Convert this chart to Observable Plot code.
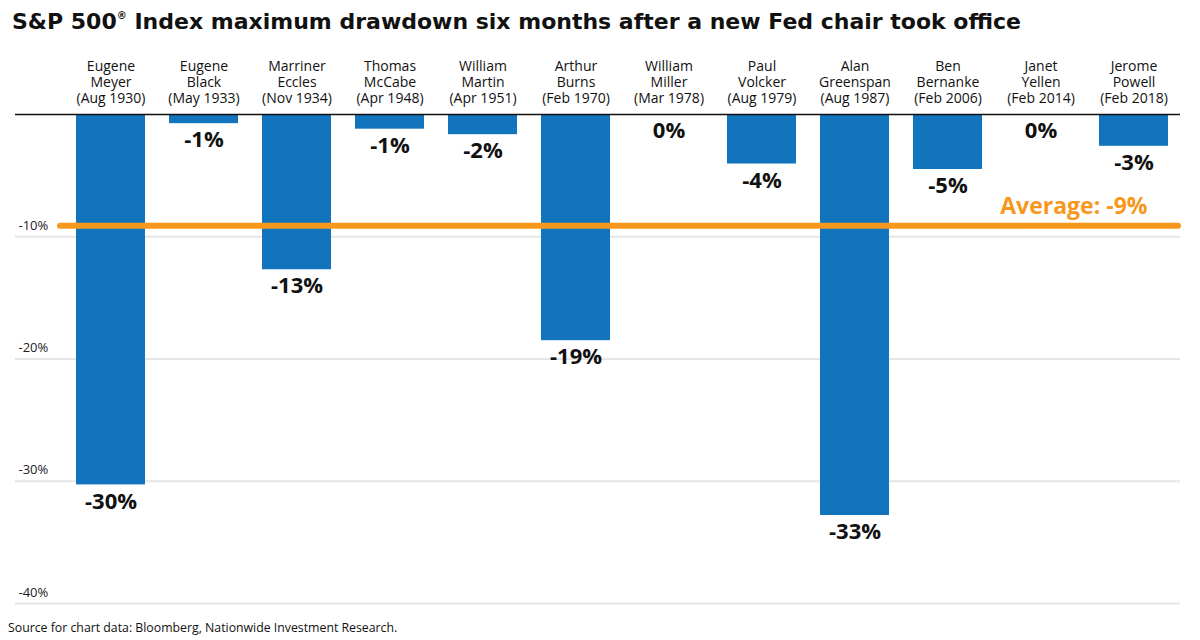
<!DOCTYPE html>
<html>
<head>
<meta charset="utf-8">
<script src="https://cdn.jsdelivr.net/npm/d3@7"></script>
<script src="https://cdn.jsdelivr.net/npm/@observablehq/plot@0.6"></script>
<style>
  html, body { margin: 0; padding: 0; background: #fff; }
  body { width: 1200px; height: 640px; overflow: hidden; font-family: "Open Sans", sans-serif; }
  #title { height: 44px; line-height: 44px; padding-left: 12px; font-family: "DejaVu Sans", sans-serif; font-size: 22px; font-weight: 700; color: #111; white-space: nowrap; }
  #title sup { font-size: 10px; vertical-align: 10px; line-height: 0; }
  #chart svg { display: block; }
  #caption { height: 21px; line-height: 18px; padding-left: 8px; font-size: 12.3px; color: #111; }
</style>
</head>
<body>
<div id="title">S&amp;P 500<sup>®</sup> Index maximum drawdown six months after a new Fed chair took office</div>
<div id="chart"></div>
<div id="caption">Source for chart data: Bloomberg, Nationwide Investment Research.</div>
<script>
const chairs = ["Eugene Meyer", "Eugene Black", "Marriner Eccles", "Thomas McCabe", "William Martin", "Arthur Burns",
  "William Miller", "Paul Volcker", "Alan Greenspan", "Ben Bernanke", "Janet Yellen", "Jerome Powell"];
const startDates = ["(Aug 1930)", "(May 1933)", "(Nov 1934)", "(Apr 1948)", "(Apr 1951)", "(Feb 1970)",
  "(Mar 1978)", "(Aug 1979)", "(Aug 1987)", "(Feb 2006)", "(Feb 2014)", "(Feb 2018)"];
const drawdown = [-30.3, -0.75, -12.7, -1.2, -1.65, -18.5, 0, -4.05, -32.8, -4.5, 0, -2.6];
const valueLabels = ["-30%", "-1%", "-13%", "-1%", "-2%", "-19%", "0%", "-4%", "-33%", "-5%", "0%", "-3%"];
const average = -9.1;
const averageLabel = "Average: -9%";
const yTicks = [-10, -20, -30, -40];
const yTickLabels = ["-10%", "-20%", "-30%", "-40%"];

const rows = chairs.map((c, i) => ({
  chair: c,
  header: c.replace(" ", "\n") + "\n" + startDates[i],
  value: drawdown[i],
  label: valueLabels[i]
}));
const ticks = yTicks.map((v, i) => ({v, t: yTickLabels[i]}));

const chart = Plot.plot({
  width: 1200,
  height: 575,
  marginTop: 70,
  marginBottom: 16,
  marginLeft: 15,
  marginRight: 20,
  style: {fontFamily: "'Open Sans', sans-serif", background: "#fff", color: "#111"},
  x: {domain: chairs, range: [63.5, 1179.5], paddingInner: 0.26, paddingOuter: 0.13, axis: null},
  y: {domain: [-40, 0], axis: null},
  marks: [
    Plot.ruleY(ticks, {y: "v", stroke: "#e6e6e6", strokeWidth: 2}),
    Plot.text(ticks, {y: "v", text: "t", frameAnchor: "left", textAnchor: "start", dx: 3, dy: -11, fontSize: 13, fill: "#222"}),
    Plot.barY(rows, {x: "chair", y: "value", fill: "#1174BC"}),
    Plot.ruleY([0], {stroke: "#111", strokeWidth: 1.5}),
    Plot.text(rows, {x: "chair", y: "value", text: "label", lineAnchor: "top", dy: 8, fontSize: 22, fontWeight: 700, fill: "#111"}),
    Plot.text(rows, {x: "chair", text: "header", frameAnchor: "top", lineAnchor: "bottom", dy: -12, fontSize: 14, lineHeight: 1.12, fill: "#111"}),
    Plot.ruleY([average], {stroke: "#F7981D", strokeWidth: 6, strokeLinecap: "round", insetLeft: 45, insetRight: 2}),
    Plot.text([average], {y: d => d, text: () => averageLabel, frameAnchor: "right", textAnchor: "end", dx: -33, dy: -19, fill: "#F7981D", fontSize: 23, fontWeight: 700})
  ]
});
document.getElementById("chart").appendChild(chart);
</script>
</body>
</html>
